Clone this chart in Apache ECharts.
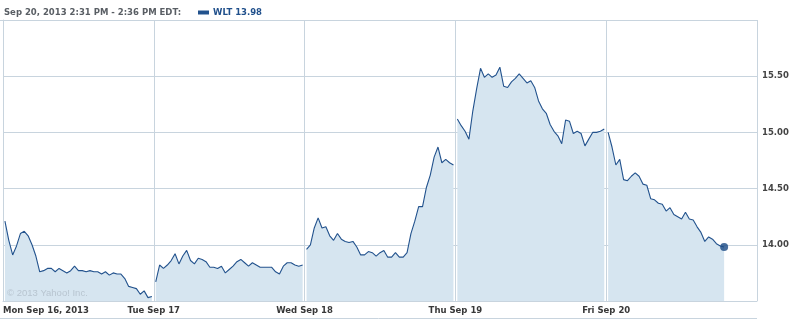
<!DOCTYPE html>
<html><head><meta charset="utf-8">
<script src="https://cdn.jsdelivr.net/npm/echarts@6/dist/echarts.min.js"></script>
<style>html,body{margin:0;padding:0;background:#fff}#c{width:794px;height:319px}</style>
</head><body><div id="c"></div>
<script>
// Trading-day labels (x axis)
var dayLabels = ['Mon Sep 16, 2013', 'Tue Sep 17', 'Wed Sep 18', 'Thu Sep 19', 'Fri Sep 20'];
// 10-minute prices for each trading day
var mon = [14.21,14.04,13.91,13.99,14.10,14.12,14.08,14.00,13.90,13.76,13.77,13.79,13.79,13.76,13.79,13.77,13.75,13.77,13.81,13.77,13.77,13.76,13.77,13.76,13.76,13.74,13.76,13.73,13.75,13.74,13.74,13.70,13.63,13.62,13.61,13.56,13.59,13.53,13.54];
var tue = [13.67,13.82,13.79,13.82,13.86,13.92,13.83,13.90,13.95,13.86,13.83,13.88,13.87,13.85,13.80,13.80,13.79,13.81,13.75,13.78,13.81,13.85,13.87,13.84,13.81,13.84,13.82,13.80,13.80,13.80,13.80,13.76,13.74,13.81,13.84,13.84,13.82,13.81,13.82];
var wed = [13.96,14.00,14.15,14.24,14.15,14.16,14.08,14.04,14.10,14.05,14.03,14.02,14.03,13.98,13.91,13.91,13.94,13.93,13.90,13.93,13.95,13.89,13.89,13.93,13.89,13.89,13.93,14.10,14.21,14.34,14.34,14.51,14.62,14.78,14.87,14.73,14.76,14.73,14.71];
var thu = [15.12,15.06,15.01,14.94,15.19,15.39,15.57,15.49,15.52,15.49,15.51,15.58,15.41,15.40,15.45,15.48,15.52,15.48,15.44,15.46,15.40,15.28,15.21,15.17,15.07,15.01,14.97,14.90,15.11,15.10,14.99,15.01,14.99,14.88,14.94,15.00,15.00,15.01,15.03];
var fri = [15.00,14.87,14.71,14.76,14.58,14.57,14.61,14.64,14.61,14.54,14.53,14.41,14.40,14.37,14.36,14.30,14.33,14.27,14.25,14.23,14.29,14.23,14.22,14.16,14.11,14.03,14.07,14.05,14.01,13.99,13.98];
var days = [mon, tue, wed, thu, fri];
// Time model: minutes in a session, sample step, first sample offset
var sessionMinutes = 390;
var stepMinutes = 10;
var firstOffset = 5;
// Y ticks
var yMin = 13.5, yMax = 16.0, yStep = 0.5;
var yTickLabels = ['14.00', '14.50', '15.00', '15.50'];
var seriesName = 'WLT 13.98';
var headerText = 'Sep 20, 2013 2:31 PM - 2:36 PM EDT:';

var LINE = '#22528d', AREA = '#d6e5f0', GRID = '#c8d4de';
var FONT = 'DejaVu Sans';

var series = days.map(function (vals, d) {
  return {
    name: seriesName, type: 'line', symbol: 'none', animation: false,
    lineStyle: { color: LINE, width: 1.1 },
    itemStyle: { color: LINE },
    areaStyle: { color: AREA, opacity: 1 },
    data: vals.map(function (v, k) { return [d * sessionMinutes + firstOffset + k * stepMinutes, v]; })
  };
});
var lastDay = days.length - 1, lastVals = days[lastDay];
series.push({
  name: seriesName, type: 'scatter', symbolSize: 8, animation: false,
  itemStyle: { color: '#1a4a85' }, z: 5,
  data: [[lastDay * sessionMinutes + firstOffset + (lastVals.length - 1) * stepMinutes, lastVals[lastVals.length - 1]]]
});

var chart = echarts.init(document.getElementById('c'), null, { renderer: 'canvas' });
chart.setOption({
  animation: false,
  backgroundColor: '#fff',
  title: {
    text: headerText, left: 4, top: 7, padding: 0,
    textStyle: { fontFamily: FONT, fontSize: 8.5, fontWeight: 'bold', color: '#595e64', lineHeight: 11 }
  },
  legend: {
    data: [{ name: seriesName, icon: 'rect' }], left: 198, top: 7, padding: 0,
    itemWidth: 11, itemHeight: 4, itemGap: 4,
    textStyle: { fontFamily: FONT, fontSize: 8.5, fontWeight: 'bold', color: '#1f4f8b', lineHeight: 11, padding: [0, 0, 0, -1] }
  },
  grid: { left: 3, right: 37, top: 20, bottom: 18, containLabel: false },
  xAxis: {
    type: 'value', min: 0, max: sessionMinutes * dayLabels.length, interval: sessionMinutes,
    axisLine: { show: true, lineStyle: { color: GRID, width: 1 } },
    axisTick: { show: false },
    splitLine: { show: true, lineStyle: { color: GRID, width: 1 } },
    axisLabel: {
      margin: 5, fontFamily: FONT, fontSize: 8.5, fontWeight: 'bold', color: '#383838',
      alignMinLabel: 'left', showMaxLabel: true,
      formatter: function (v) { var i = Math.round(v / sessionMinutes); return dayLabels[i] || ''; }
    }
  },
  yAxis: {
    type: 'value', position: 'right', min: yMin, max: yMax, interval: yStep,
    axisLine: { show: true, lineStyle: { color: GRID, width: 1 } },
    axisTick: { show: false },
    splitLine: { show: true, lineStyle: { color: GRID, width: 1 } },
    axisLabel: {
      margin: 5, fontFamily: FONT, fontSize: 8.5, fontWeight: 'bold', color: '#444',
      formatter: function (v) { var s = v.toFixed(2); return yTickLabels.indexOf(s) >= 0 ? s : ''; }
    }
  },
  graphic: [
    { type: 'line', shape: { x1: 0, y1: 318.5, x2: 757, y2: 318.5 }, style: { stroke: GRID, lineWidth: 1 }, silent: true },
    { type: 'line', shape: { x1: 0, y1: 20.5, x2: 3, y2: 20.5 }, style: { stroke: GRID, lineWidth: 1 }, silent: true },
    { type: 'text', left: 7, top: 288, z: 10, silent: true,
      style: { text: '\u00a9 2013 Yahoo! Inc.', fontFamily: 'Liberation Sans', fontSize: 9.5, fill: '#b8c5d0' } }
  ],
  series: series
});
</script></body></html>
